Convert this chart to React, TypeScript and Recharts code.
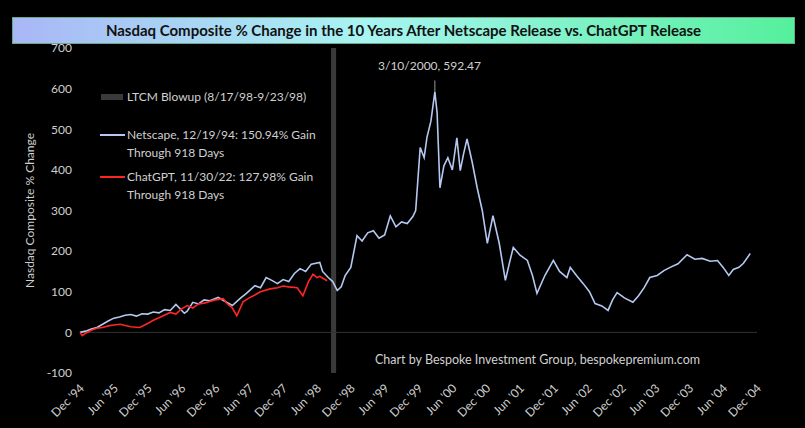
import React from "react";
import { LineChart, Line, XAxis, YAxis, ReferenceArea, ReferenceLine } from "recharts";

// months since Dec '94
const netscapeMonths = [0,1,2,3,4,5,6,7,8,9,10,11,12,13,14,15,16,17,18.5,19,20,21,22,23,24.5,25.5,27,28.5,29.5,31,32,33,34,35,36,37,38,39,40,41,42.5,43,44,44.8,45.6,46.3,47,48,49.1,50,51,52,53,54,55,56,57,58,59,59.5,60.3,61,61.5,62.2,62.9,63.3,63.8,64.5,65.2,66,66.8,67.4,68,68.6,69.5,70.4,71.3,72.2,73.2,74.3,75.4,76.1,76.8,78,79.3,80.2,81,82.4,83.9,85,86.3,86.9,88,89.2,90.3,91.3,92.5,93.6,94.4,95.2,96.5,98,99,100,101,102.3,103.5,104.6,106,107.6,109,110.3,111.7,113,114,115,115.8,116.8,117.6,118.8,120];
const netscapeValues = [0,3,8,12,20,28,35,38,42,44,40,46,45,50,48,56,54,69,47,52,74,70,80,78,86,78,66,85,96,115,110,135,128,120,130,125,145,157,150,168,172,150,135,125,103,112,140,160,238,225,245,250,232,240,287,260,272,268,285,300,455,430,480,520,592,540,356,410,430,400,479,398,440,476,420,356,300,219,287,220,128,170,209,190,177,140,96,140,177,150,135,160,140,120,100,71,65,54,80,98,85,74,90,110,135,140,152,160,169,191,180,182,175,177,160,140,155,160,170,194];
const chatgptMonths = [0,0.4,1,2,3,4,5,6,7.1,8,9,10.6,12,13,14,16,17,18,19,20,21,22,23,24,25.4,26,27,27.8,28.9,30,31,32,33.7,35,36,37,38.5,39.5,40.5,41.3,42,42.5,43.2,43.8];
const chatgptValues = [0,-8,-2,5,10,12,16,18,20,17,14,12,22,30,36,49,45,58,66,60,70,72,76,80,83,72,60,41,75,85,92,100,107,110,114,112,110,90,125,143,135,138,132,127];
const yTicks = [-100,0,100,200,300,400,500,600,700];
const xTicks = [0,6,12,18,24,30,36,42,48,54,60,66,72,78,84,90,96,102,108,114,120];
const tickLabels = ["Dec '94","Jun '95","Dec '95","Jun '96","Dec '96","Jun '97","Dec '97","Jun '98","Dec '98","Jun '99","Dec '99","Jun '00","Dec '00","Jun '01","Dec '01","Jun '02","Dec '02","Jun '03","Dec '03","Jun '04","Dec '04"];

const netscape = netscapeMonths.map((m, i) => ({ m, v: netscapeValues[i] }));
const chatgpt = chatgptMonths.map((m, i) => ({ m, v: chatgptValues[i] }));

const FONT = "Lato, 'Open Sans', sans-serif";

const XTick = (props: any) => {
  const { x, y, payload } = props;
  const label = tickLabels[xTicks.indexOf(payload.value)];
  return (
    <text x={x + 5} y={y + 8} transform={`rotate(-45 ${x + 5} ${y + 8})`} textAnchor="end" fill="#cfcfcf" fontSize={12} fontFamily={FONT}>
      {label}
    </text>
  );
};

export default function App() {
  return (
    <div style={{ position: "absolute", left: 0, top: 0, width: 805, height: 428, background: "#000", fontFamily: FONT }}>
      <div style={{ position: "absolute", left: 12, top: 17, width: 781, height: 25, background: "linear-gradient(90deg, #a9b6f6 0%, #a8f4f2 45%, #55f09c 100%)", border: "1px solid #6a8", textAlign: "center", lineHeight: "25px", fontSize: 15, fontWeight: 700, color: "#111" }}>
        Nasdaq Composite % Change in the 10 Years After Netscape Release vs. ChatGPT Release
      </div>
      <LineChart width={805} height={428} data={netscape} margin={{ top: 48, right: 48, left: 20, bottom: 50 }}>
        <XAxis dataKey="m" type="number" domain={[0, 120]} ticks={xTicks} tick={<XTick />} axisLine={false} tickLine={false} interval={0} height={5} />
        <YAxis type="number" domain={[-100, 700]} ticks={yTicks} width={60} axisLine={false} tickLine={false} tick={{ fill: "#cfcfcf", fontSize: 12, fontFamily: FONT }}
          label={{ value: "Nasdaq Composite % Change", angle: -90, position: "insideLeft", offset: 10, fill: "#cfcfcf", fontSize: 12, fontFamily: FONT, style: { textAnchor: "middle" } }} />
        <ReferenceLine y={0} stroke="#333" strokeWidth={1} />
        <ReferenceArea x1={44.5} x2={45.4} y1={-100} y2={700} fill="#3a3a3a" fillOpacity={1} stroke="none" />
        <Line data={netscape} dataKey="v" stroke="#b4c8f0" strokeWidth={1.6} dot={false} isAnimationActive={false} />
        <Line data={chatgpt} dataKey="v" stroke="#ff2525" strokeWidth={1.6} dot={false} isAnimationActive={false} />
        <ReferenceLine segment={[{ x: 62.9, y: 592 }, { x: 62.9, y: 620 }]} stroke="#999" />
      </LineChart>
      <div style={{ position: "absolute", left: 378, top: 58, color: "#d0d0d0", fontSize: 12 }}>3/10/2000, 592.47</div>
      <div style={{ position: "absolute", left: 101, top: 94, width: 22, height: 6, background: "#3a3a3a" }} />
      <div style={{ position: "absolute", left: 127, top: 89, color: "#d0d0d0", fontSize: 12 }}>LTCM Blowup (8/17/98-9/23/98)</div>
      <div style={{ position: "absolute", left: 100, top: 134, width: 25, height: 2, background: "#b4c8f0" }} />
      <div style={{ position: "absolute", left: 127, top: 126, color: "#d0d0d0", fontSize: 12, lineHeight: "18px" }}>Netscape, 12/19/94: 150.94% Gain<br />Through 918 Days</div>
      <div style={{ position: "absolute", left: 100, top: 176, width: 25, height: 2, background: "#ff2525" }} />
      <div style={{ position: "absolute", left: 127, top: 168, color: "#d0d0d0", fontSize: 12, lineHeight: "18px" }}>ChatGPT, 11/30/22: 127.98% Gain<br />Through 918 Days</div>
      <div style={{ position: "absolute", left: 375, top: 352, color: "#d0d0d0", fontSize: 12.5 }}>Chart by Bespoke Investment Group, bespokepremium.com</div>
    </div>
  );
}
